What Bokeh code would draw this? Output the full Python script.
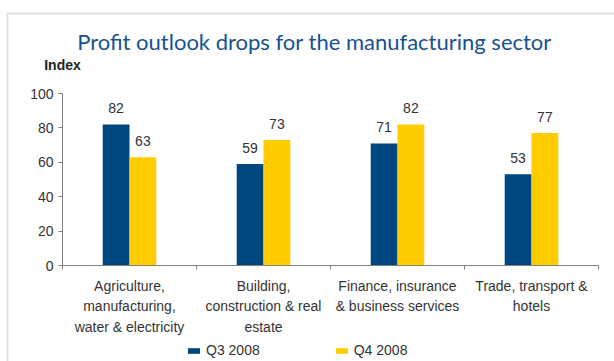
from bokeh.plotting import figure
from bokeh.models import (ColumnDataSource, FixedTicker, LabelSet, Label, Legend,
                          LegendItem, Range1d, BoxAnnotation)
from bokeh.core.properties import value
from bokeh.transform import dodge
from bokeh.embed import file_html
from bokeh.resources import INLINE

title_text = "Profit outlook drops for the manufacturing sector"
y_label = "Index"
categories = [
    "Agriculture,\nmanufacturing,\nwater & electricity",
    "Building,\nconstruction & real\nestate",
    "Finance, insurance\n& business services",
    "Trade, transport &\nhotels",
]
series_names = ["Q3 2008", "Q4 2008"]
q3 = [82, 59, 71, 53]
q4 = [63, 73, 82, 77]
y_ticks = [0, 20, 40, 60, 80, 100]

BLUE = "#00467f"
YELLOW = "#ffcc00"
TEXT = "#333333"
AXIS = "#808080"

W, H = 614, 361
# pixel layout of the plotting area (page coordinates)
PX_L, PX_R, PX_TOP, PX_BOT = 62, 598, 93, 265
ncat = len(categories)
YMIN, YMAX = 0, 100
xs = (PX_R - PX_L) / ncat
ys = (PX_BOT - PX_TOP) / (YMAX - YMIN)
x_range = Range1d(0.5 - PX_L / xs, 0.5 + (W - PX_L) / xs)
y_range = Range1d(YMIN - (H - PX_BOT) / ys, YMIN + PX_BOT / ys)

pos = list(range(1, ncat + 1))
src = ColumnDataSource(dict(x=pos, q3=q3, q4=q4,
                            q3s=[str(v) for v in q3], q4s=[str(v) for v in q4]))

p = figure(width=W, height=H, output_backend="svg", toolbar_location=None,
           x_range=x_range, y_range=y_range,
           min_border=0, min_border_left=0, min_border_right=0,
           min_border_top=0, min_border_bottom=0,
           background_fill_color="white", border_fill_color="white",
           outline_line_color=None)
p.xgrid.visible = False
p.ygrid.visible = False

bw = 0.2
r3 = p.vbar(x=dodge("x", -bw / 2, range=p.x_range), top="q3", width=bw, source=src,
            fill_color=BLUE, line_color=None)
r4 = p.vbar(x=dodge("x", bw / 2, range=p.x_range), top="q4", width=bw, source=src,
            fill_color=YELLOW, line_color=None)

for col, off in (("q3", -bw / 2), ("q4", bw / 2)):
    p.add_layout(LabelSet(x=dodge("x", off, range=p.x_range), y=col, text=col + "s",
                          source=src, y_offset=16, text_align="center",
                          text_baseline="middle", text_font=value("Liberation Sans"),
                          text_font_size=value("14px"), text_color=TEXT))

# y axis
ya = p.yaxis[0]
ya.fixed_location = 0.5
ya.bounds = (YMIN, YMAX)
ya.ticker = FixedTicker(ticks=y_ticks, minor_ticks=[])
ya.axis_line_color = AXIS
ya.major_tick_line_color = AXIS
ya.major_tick_out = 4
ya.major_tick_in = 0
ya.minor_tick_line_color = None
ya.major_label_standoff = 5
ya.major_label_text_font = "Liberation Sans"
ya.major_label_text_font_size = "14px"
ya.major_label_text_color = TEXT

# x axis
xa = p.xaxis[0]
xa.fixed_location = YMIN
xa.bounds = (0.5, ncat + 0.5)
bounds = [i + 0.5 for i in range(ncat + 1)]
xa.ticker = FixedTicker(ticks=pos, minor_ticks=bounds)
xa.major_label_overrides = {k: c for k, c in zip(pos, categories)}
xa.axis_line_color = AXIS
xa.major_tick_line_color = None
xa.major_tick_out = 4
xa.minor_tick_line_color = AXIS
xa.minor_tick_out = 4
xa.minor_tick_in = 0
xa.major_label_standoff = 8
xa.major_label_text_font = "Liberation Sans"
xa.major_label_text_font_size = "14px"
xa.major_label_text_color = TEXT
xa.major_label_text_line_height = 1.29

# border of the panel
p.add_layout(BoxAnnotation(left=7, right=W + 50, top=H - 13, bottom=-50,
                           left_units="screen", right_units="screen",
                           top_units="screen", bottom_units="screen",
                           fill_color=None, fill_alpha=0, line_color="#9a9a9a",
                           line_width=2))

# titles (screen units from the canvas bottom-left)
p.add_layout(Label(x=314, y=H - 41, x_units="screen", y_units="screen",
                   text=title_text, text_align="center", text_baseline="alphabetic",
                   text_font="Lato", text_font_size="22px", text_color="#17528f"))
p.add_layout(Label(x=62, y=H - 64, x_units="screen", y_units="screen",
                   text=y_label, text_align="center", text_baseline="middle",
                   text_font="Liberation Sans", text_font_size="14px",
                   text_font_style="bold", text_color="#222222"))

legend = Legend(items=[LegendItem(label=series_names[0], renderers=[r3]),
                       LegendItem(label=series_names[1], renderers=[r4])],
                orientation="horizontal", location=(186, 3),
                glyph_width=15, glyph_height=7, label_height=14, label_standoff=5,
                spacing=74, padding=0, margin=0, border_line_color=None,
                background_fill_alpha=0, label_text_font="Liberation Sans",
                label_text_font_size="14px", label_text_color=TEXT)
p.add_layout(legend, "center")

open("out.html", "w").write(file_html(p, INLINE))
